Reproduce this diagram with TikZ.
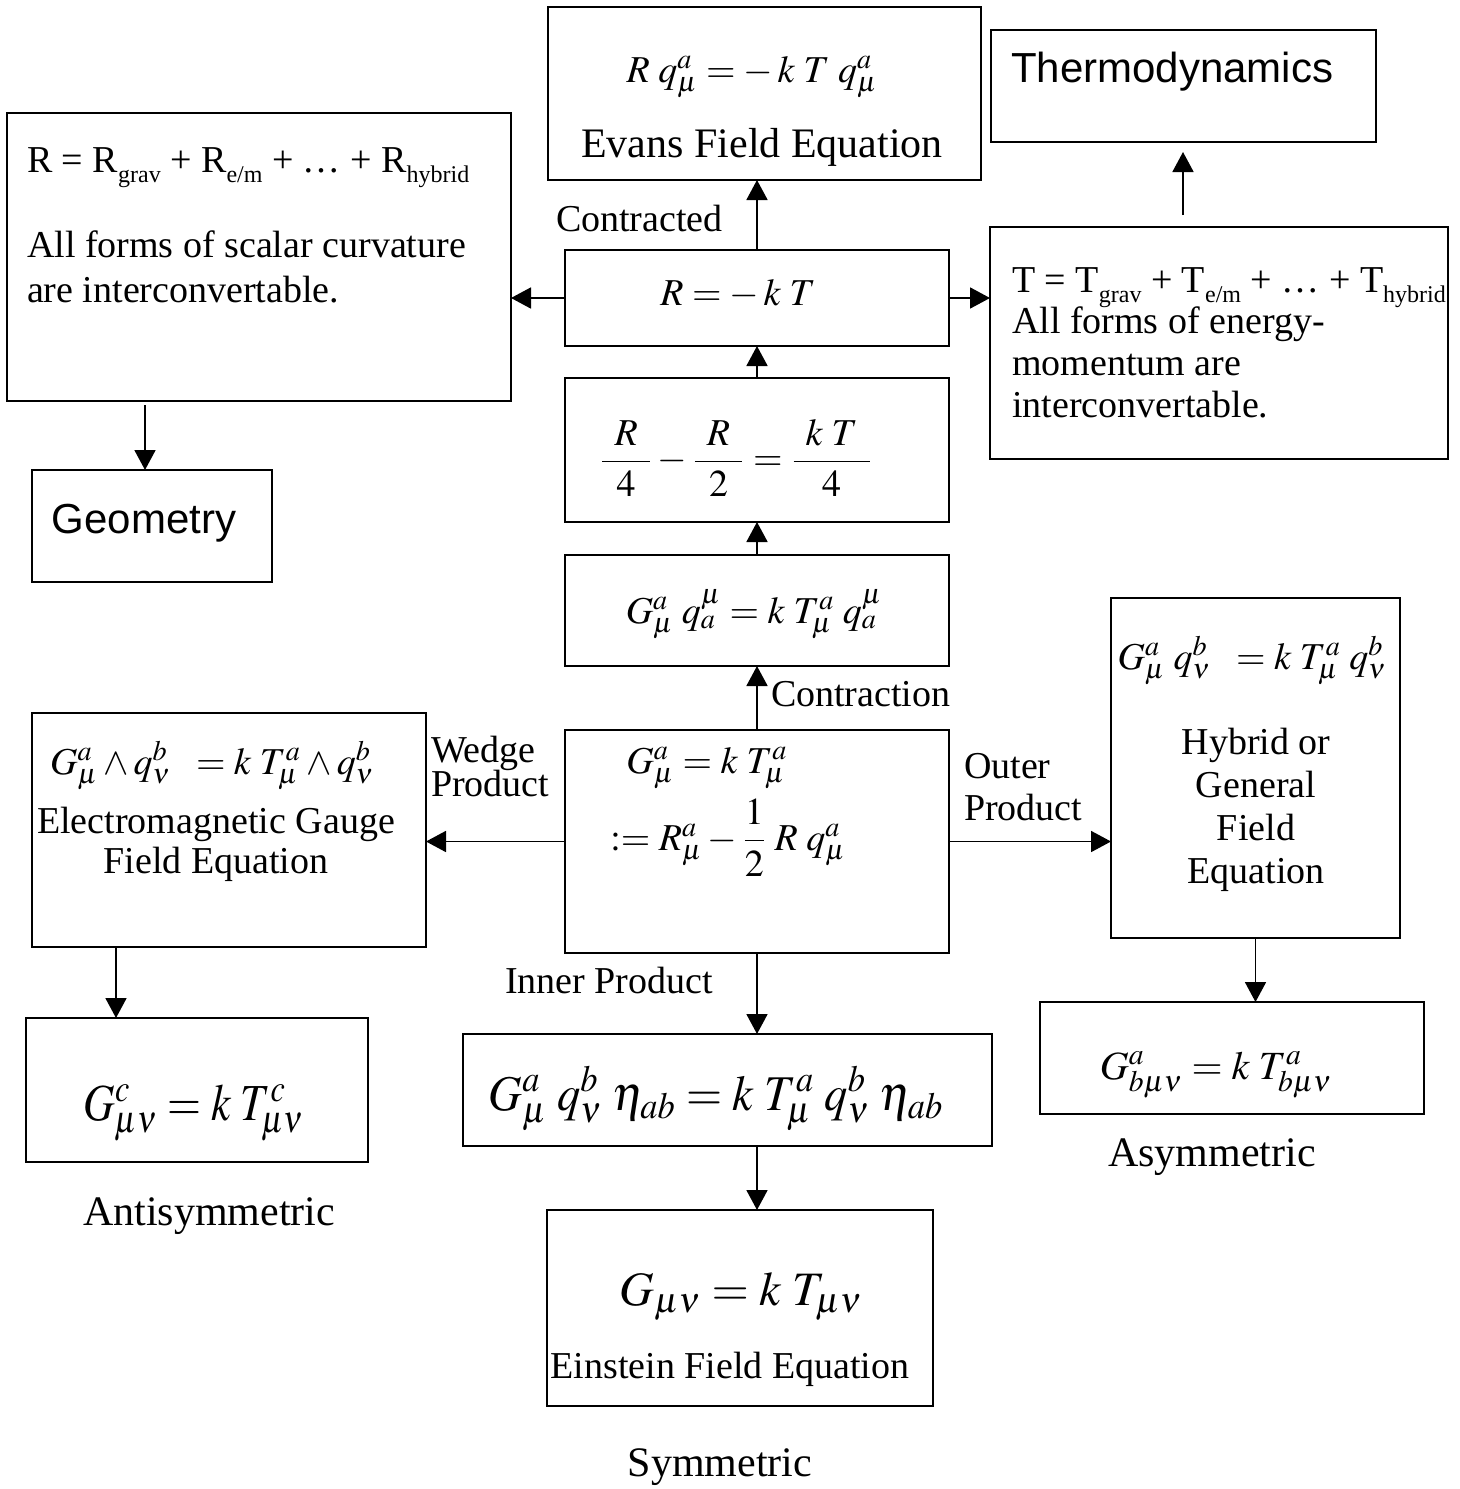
\documentclass[tikz,border=0pt]{standalone}
\usepackage{amsmath}
\usepackage{mathptmx}
\usepackage[no-math]{fontspec}
\setmainfont{Liberation Serif}
\newfontfamily\arialfont{Liberation Sans}
\usetikzlibrary{arrows.meta}
\newcommand\lsub[1]{\raisebox{-0.27em}{\fontsize{12}{13}\selectfont #1}}
\tikzset{
  box/.style={draw, rectangle, line width=1pt, inner sep=0pt, outer sep=0pt},
  txt/.style={font=\fontsize{19}{21.5}\selectfont, inner sep=0pt, outer sep=0pt},
  lbl/.style={font=\fontsize{21}{24}\selectfont, inner sep=0pt, outer sep=0pt},
  big/.style={font=\fontsize{24}{28}\selectfont, inner sep=0pt, outer sep=0pt},
  sans/.style={font=\arialfont\fontsize{21}{24}\selectfont, inner sep=0pt, outer sep=0pt},
  arr/.style={-{Triangle[length=10pt,width=10.5pt]}, line width=0.9pt},
}
\begin{document}
\begin{tikzpicture}[x=0.5pt,y=-0.5pt]
\useasboundingbox (0,0) rectangle (1460,1489);
% boxes
\node[box, minimum width=216.5pt, minimum height=86.5pt] (evans) at (764.5,93.5) {};
\node[box, minimum width=192.5pt, minimum height=56pt] (thermo) at (1183.5,86) {};
\node[box, minimum width=252pt, minimum height=144pt] (rbox) at (259,257) {};
\node[box, minimum width=120pt, minimum height=56pt] (geo) at (152,526) {};
\node[box, minimum width=192pt, minimum height=48pt] (rkt) at (757,298) {};
\node[box, minimum width=229pt, minimum height=116pt] (tbox) at (1219,343) {};
\node[box, minimum width=192pt, minimum height=72pt] (frac) at (757,450) {};
\node[box, minimum width=192pt, minimum height=55.5pt] (gq) at (757,610.5) {};
\node[box, minimum width=192pt, minimum height=111.5pt] (cen) at (757,841.5) {};
\node[box, minimum width=197pt, minimum height=117pt] (em) at (229,830) {};
\node[box, minimum width=144.5pt, minimum height=170pt] (hyb) at (1255.5,768) {};
\node[box, minimum width=192pt, minimum height=56pt] (asym) at (1232,1058) {};
\node[box, minimum width=171pt, minimum height=72pt] (anti) at (197,1090) {};
\node[box, minimum width=264.5pt, minimum height=56pt] (inner) at (727.5,1090) {};
\node[box, minimum width=193pt, minimum height=98pt] (ein) at (740,1308) {};

% box texts
\node[txt, anchor=base] (evanseq) at (752,82) {$R\;q^{a}_{\mu} = -\,k\;T\;q^{a}_{\mu}$};
\node[lbl, anchor=base] (evanst) at (762,157) {Evans Field Equation};
\node[sans, anchor=base west] (thermot) at (1011,82) {Thermodynamics};
\node[txt, anchor=base west] (rsum) at (27,172) {R = R\lsub{grav} + R\lsub{e/m} + … + R\lsub{hybrid}};
\node[txt, anchor=base west] (rt1) at (27,257) {All forms of scalar curvature};
\node[txt, anchor=base west] (rt2) at (27,302) {are interconvertable.};
\node[sans, anchor=base] (geot) at (144,533) {Geometry};
\node[txt, anchor=base] (rkteq) at (738,305) {$R = -\,k\;T$};
\node[txt, anchor=base west] (tsum) at (1012,292) {T = T\lsub{grav} + T\lsub{e/m} + … + T\lsub{hybrid}};
\node[txt, anchor=base west] (tt1) at (1012,333) {All forms of energy-};
\node[txt, anchor=base west] (tt2) at (1012,375) {momentum are};
\node[txt, anchor=base west] (tt3) at (1012,417) {interconvertable.};
\node[txt] (fraceq) at (736,458) {$\dfrac{\makebox[1.25em]{$R$}}{4} - \dfrac{\makebox[1.25em]{$R$}}{2} = \dfrac{\makebox[2em]{$k\;T$}}{4}$};
\node[txt, anchor=base] (gqeq) at (754,623) {$G^{a}_{\mu}\;q^{\mu}_{a} = k\;T^{a}_{\mu}\;q^{\mu}_{a}$};
\node[txt, anchor=base] (ceneq1) at (707,773) {$G^{a}_{\mu} = k\;T^{a}_{\mu}$};
\node[txt, anchor=base] (ceneq2) at (728,850) {$\mathrel{:=} R^{a}_{\mu} - \dfrac{1}{2}\;R\;q^{a}_{\mu}$};
\node[txt, anchor=base] (emeq) at (212,774) {$G^{a}_{\mu}\wedge q^{b}_{\nu}\;\;= k\;T^{a}_{\mu}\wedge q^{b}_{\nu}$};
\node[txt, anchor=base] (emt1) at (216,833) {Electromagnetic Gauge};
\node[txt, anchor=base] (emt2) at (216,873) {Field Equation};
\node[txt, anchor=base] (hybeq) at (1252,669) {$G^{a}_{\mu}\;q^{b}_{\nu}\;\;= k\;T^{a}_{\mu}\;q^{b}_{\nu}$};
\node[txt, anchor=base] (hybt1) at (1256,754) {Hybrid or};
\node[txt, anchor=base] (hybt2) at (1256,797) {General};
\node[txt, anchor=base] (hybt3) at (1256,840) {Field};
\node[txt, anchor=base] (hybt4) at (1256,883) {Equation};
\node[txt, font=\fontsize{20}{24}\selectfont, anchor=base] (asymeq) at (1216,1079) {$G^{a}_{b\mu\nu} = k\;T^{a}_{b\mu\nu}$};
\node[big, font=\fontsize{26}{30}\selectfont, anchor=base] (antieq) at (194,1120) {\scalebox{0.84}[1]{$G^{c}_{\mu\nu} = k\;T^{c}_{\mu\nu}$}};
\node[big, font=\fontsize{25}{30}\selectfont, anchor=base] (innereq) at (716,1110) {\scalebox{0.93}[1]{$G^{a}_{\mu}\;q^{b}_{\nu}\;\eta_{ab} = k\;T^{a}_{\mu}\;q^{b}_{\nu}\;\eta_{ab}$}};
\node[big, anchor=base] (eineq) at (741,1305) {$G_{\mu\nu} = k\;T_{\mu\nu}$};
\node[txt, anchor=base] (eint) at (730,1378) {Einstein Field Equation};

% labels
\node[txt, anchor=base west] (lcontracted) at (556,231) {Contracted};
\node[txt, anchor=base west] (lcontraction) at (771,706) {Contraction};
\node[txt, anchor=base west] (lwedge1) at (431,762) {Wedge};
\node[txt, anchor=base west] (lwedge2) at (431,796) {Product};
\node[txt, anchor=base west] (louter1) at (964,778) {Outer};
\node[txt, anchor=base west] (louter2) at (964,820) {Product};
\node[txt, anchor=base] (linner) at (609,993) {Inner Product};
\node[lbl, anchor=base] (lanti) at (209,1225) {Antisymmetric};
\node[lbl, anchor=base] (lasym) at (1212,1166) {Asymmetric};
\node[lbl, anchor=base] (lsym) at (720,1476) {Symmetric};

% connectors
\coordinate (tstart) at (1183,215);
\coordinate (gstart) at (145,405);
\coordinate (emx) at (116,947);
\draw[arr] (cen.north) -- (gq.south);
\draw[arr] (gq.north) -- (frac.south);
\draw[arr] (frac.north) -- (rkt.south);
\draw[arr] (rkt.north) -- (rkt.north |- evans.south);
\draw[arr] (rkt.west) -- (rkt.west -| rbox.east);
\draw[arr] (rkt.east) -- (rkt.east -| tbox.west);
\draw[arr, shorten >=5pt] (tstart) -- (tstart |- thermo.south);
\draw[arr] (gstart) -- (gstart |- geo.north);
\draw[arr] (cen.west) -- (cen.west -| em.east);
\draw[arr] (cen.east) -- (cen.east -| hyb.west);
\draw[arr] (cen.south) -- (cen.south |- inner.north);
\draw[arr] (cen.south |- inner.south) -- (cen.south |- ein.north);
\draw[arr] (emx) -- (emx |- anti.north);
\draw[arr] (hyb.south) -- (hyb.south |- asym.north);
\end{tikzpicture}
\end{document}
